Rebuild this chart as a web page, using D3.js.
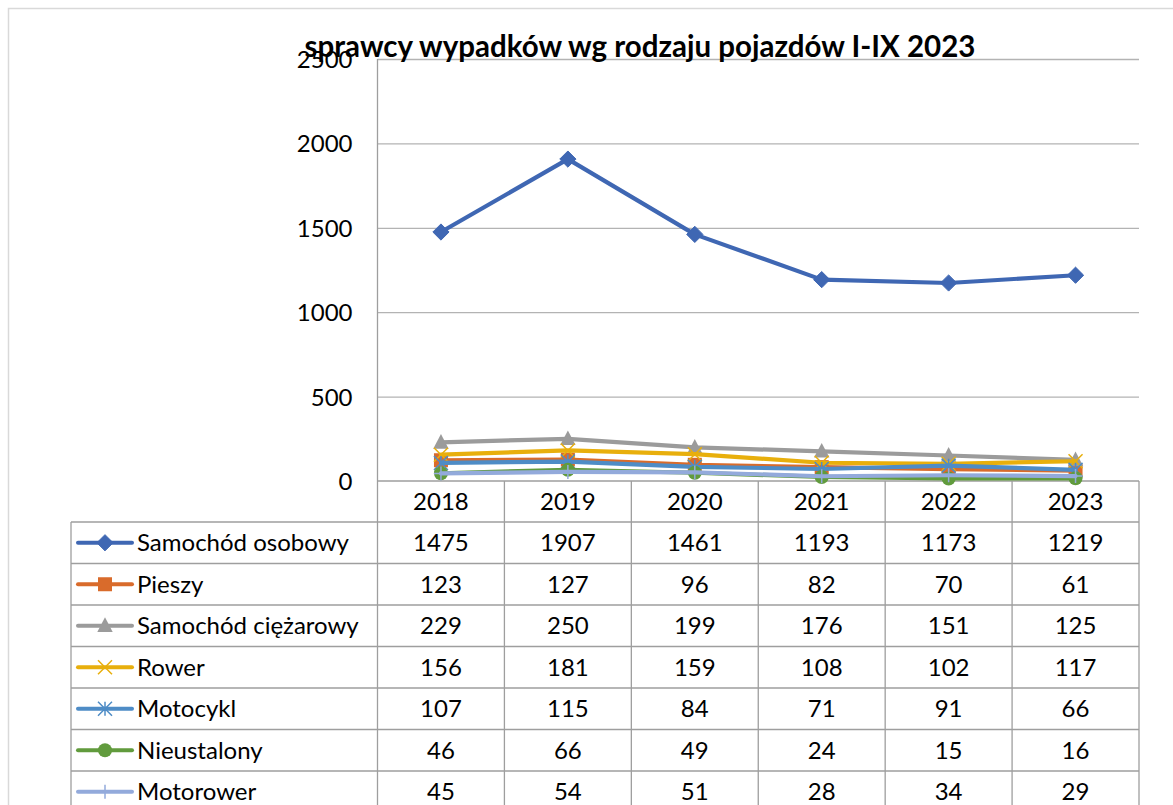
<!DOCTYPE html>
<html><head><meta charset="utf-8">
<script src="https://cdn.jsdelivr.net/npm/d3@7"></script>
<style>
html,body{margin:0;padding:0;background:#fff;}
svg{display:block;}
text{font-family:"Lato","Open Sans",sans-serif;fill:#000;}
</style></head>
<body>
<svg id="chart" width="1173" height="805"></svg>
<script>
const years = ["2018","2019","2020","2021","2022","2023"];
const seriesNames = ["Samochód osobowy","Pieszy","Samochód ciężarowy","Rower","Motocykl","Nieustalony","Motorower"];
const samochodOsobowy = [1475,1907,1461,1193,1173,1219];
const pieszy = [123,127,96,82,70,61];
const samochodCiezarowy = [229,250,199,176,151,125];
const rower = [156,181,159,108,102,117];
const motocykl = [107,115,84,71,91,66];
const nieustalony = [46,66,49,24,15,16];
const motorower = [45,54,51,28,34,29];
const yTicks = [0,500,1000,1500,2000,2500];
const titleText = "sprawcy wypadków wg rodzaju pojazdów I-IX 2023";

const seriesValues = [samochodOsobowy,pieszy,samochodCiezarowy,rower,motocykl,nieustalony,motorower];
const colors = ["#3F67B3","#D96B2B","#9B9B9B","#E8AF0C","#4E8CC6","#619B3D","#93AADB"];
const markers = ["diamond","square","triangle","x","star","circle","plus"];

const svg = d3.select("#chart");
const W = 1173, H = 805;
const plotL = 377.5, plotR = 1139, plotT = 59, plotB = 481;
const tableL = 71, rowH = 41.5, headerB = 522;
const FS = 24;

// outer frame
svg.append("rect").attr("x",8.5).attr("y",8.5).attr("width",1200).attr("height",900)
  .attr("fill","#fff").attr("stroke","#d9d9d9").attr("stroke-width",1.5);

const x = d3.scaleBand().domain(years).range([plotL,plotR]);
const y = d3.scaleLinear().domain([0,2500]).range([plotB,plotT]);
const cx = d => x(d)+x.bandwidth()/2;

// gridlines
svg.append("g").selectAll("line").data(yTicks.filter(t=>t>0)).join("line")
  .attr("x1",plotL).attr("x2",plotR).attr("y1",d=>y(d)+0.5).attr("y2",d=>y(d)+0.5)
  .attr("stroke","#b3b3b3").attr("stroke-width",1.3);

// y axis labels
const yAxis = d3.axisLeft(y).tickValues(yTicks).tickSize(0).tickPadding(25).tickFormat(d3.format("d"));
const ya = svg.append("g").attr("transform",`translate(${plotL},0)`).call(yAxis);
ya.select(".domain").remove();
ya.selectAll("text").attr("font-size",FS).attr("font-family","Lato").attr("fill","#000").attr("dy","0.35em");

// table grid
const grid = svg.append("g").attr("stroke","#9e9e9e").attr("stroke-width",1.3).attr("fill","none");
grid.append("line").attr("x1",plotL).attr("x2",plotL).attr("y1",plotT).attr("y2",H);
grid.append("line").attr("x1",plotL).attr("x2",plotR).attr("y1",plotB).attr("y2",plotB);
years.forEach((yr,i)=>{
  const xr = x(yr)+x.bandwidth();
  grid.append("line").attr("x1",xr).attr("x2",xr).attr("y1",plotB).attr("y2",H);
});
grid.append("line").attr("x1",tableL).attr("x2",tableL).attr("y1",headerB).attr("y2",H);
seriesNames.forEach((s,i)=>{
  const yy = headerB + i*rowH;
  grid.append("line").attr("x1",tableL).attr("x2",plotR).attr("y1",yy).attr("y2",yy);
});

// header years
svg.append("g").selectAll("text").data(years).join("text")
  .attr("x",d=>cx(d)).attr("y",(plotB+headerB)/2).attr("dy","0.36em")
  .attr("text-anchor","middle").attr("font-size",FS).text(d=>d);

function drawMarker(g, type, color, px, py, size){
  const s = size;
  switch(type){
    case "diamond":
      g.append("path").attr("d",`M${px},${py-s*0.58}L${px+s*0.58},${py}L${px},${py+s*0.58}L${px-s*0.58},${py}Z`).attr("fill",color).attr("stroke",color).attr("stroke-width",1);
      break;
    case "square":
      g.append("rect").attr("x",px-s/2).attr("y",py-s/2).attr("width",s).attr("height",s).attr("fill",color);
      break;
    case "triangle":
      g.append("path").attr("d",`M${px},${py-s*0.6}L${px+s*0.55},${py+s*0.45}L${px-s*0.55},${py+s*0.45}Z`).attr("fill",color);
      break;
    case "circle":
      g.append("circle").attr("cx",px).attr("cy",py).attr("r",s/2).attr("fill",color);
      break;
    case "x":
      g.append("path").attr("d",`M${px-s/2},${py-s/2}L${px+s/2},${py+s/2}M${px-s/2},${py+s/2}L${px+s/2},${py-s/2}`).attr("stroke",color).attr("stroke-width",1.5);
      break;
    case "star":
      g.append("path").attr("d",`M${px-s/2},${py-s/2}L${px+s/2},${py+s/2}M${px-s/2},${py+s/2}L${px+s/2},${py-s/2}M${px},${py-s/2}L${px},${py+s/2}`).attr("stroke",color).attr("stroke-width",1.5);
      break;
    case "plus":
      g.append("path").attr("d",`M${px-s/2},${py}L${px+s/2},${py}M${px},${py-s/2}L${px},${py+s/2}`).attr("stroke",color).attr("stroke-width",1.5);
      break;
  }
}

const line = d3.line().x((d,i)=>cx(years[i])).y(d=>y(d));
const plotG = svg.append("g");
seriesValues.forEach((vals,si)=>{
  const g = plotG.append("g");
  g.append("path").datum(vals).attr("d",line).attr("fill","none")
    .attr("stroke",colors[si]).attr("stroke-width",4.2).attr("stroke-linejoin","round").attr("stroke-linecap","round");
  vals.forEach((v,i)=>drawMarker(g, markers[si], colors[si], cx(years[i]), y(v), 14));
});

seriesNames.forEach((name,si)=>{
  const ry = headerB + si*rowH + rowH/2;
  const g = svg.append("g");
  g.append("line").attr("x1",78).attr("x2",132).attr("y1",ry).attr("y2",ry)
    .attr("stroke",colors[si]).attr("stroke-width",4).attr("stroke-linecap","round");
  drawMarker(g, markers[si], colors[si], 105, ry, 14);
  g.append("text").attr("x",137).attr("y",ry).attr("dy","0.36em").attr("font-size",FS).text(name);
  g.selectAll("text.v").data(seriesValues[si]).join("text").attr("class","v")
    .attr("x",(d,i)=>cx(years[i])).attr("y",ry).attr("dy","0.36em")
    .attr("text-anchor","middle").attr("font-size",FS).text(d=>d);
});

svg.append("text").attr("x",640).attr("y",57).attr("text-anchor","middle")
  .attr("font-size",29.5).attr("font-weight","bold").text(titleText);
</script>
</body></html>
